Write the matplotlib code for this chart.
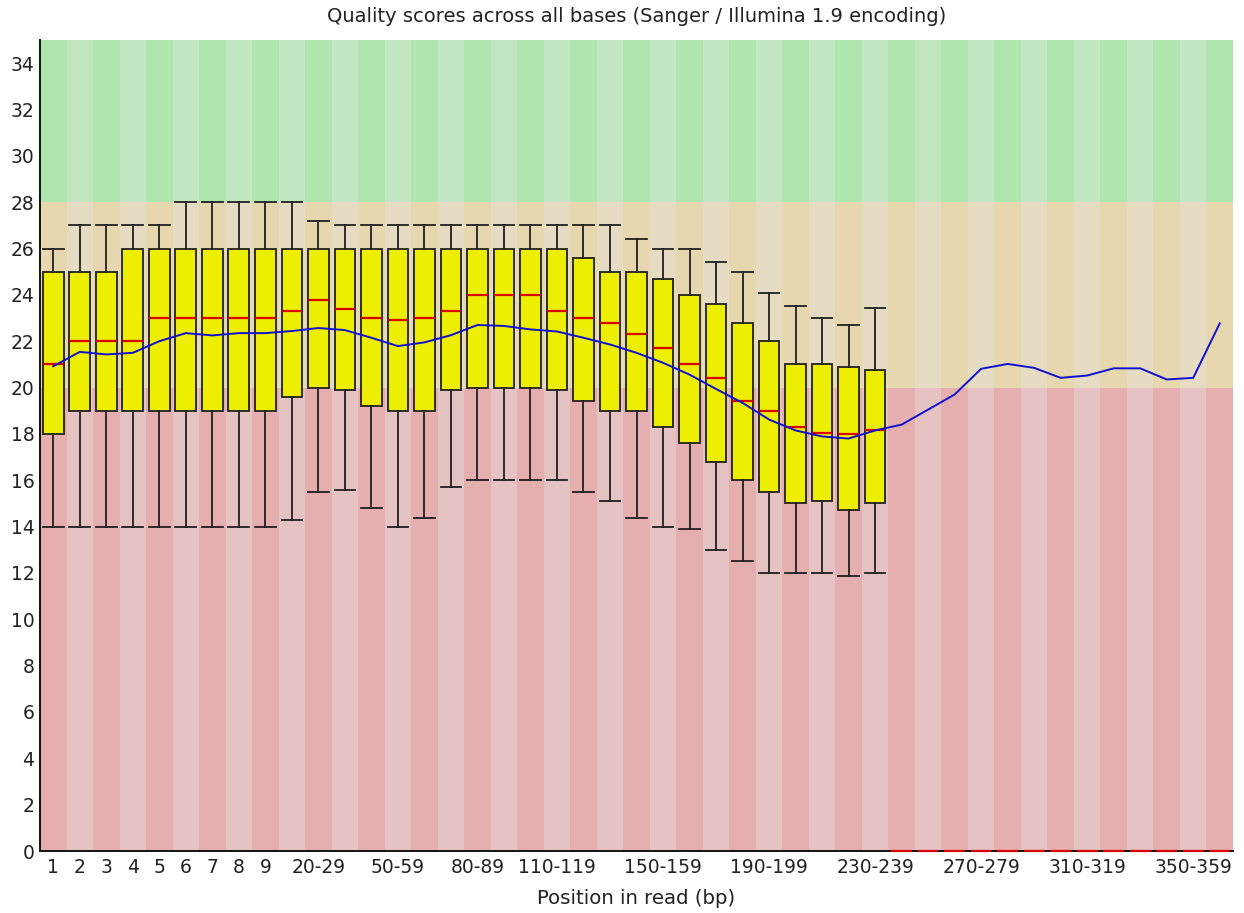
import numpy as np
import matplotlib
matplotlib.use("Agg")
import matplotlib.pyplot as plt

# ---- data -------------------------------------------------------------
categories = ["1", "2", "3", "4", "5", "6", "7", "8", "9",
              "10-19", "20-29", "30-39", "40-49", "50-59", "60-69", "70-79",
              "80-89", "90-99", "100-109", "110-119", "120-129", "130-139",
              "140-149", "150-159", "160-169", "170-179", "180-189", "190-199",
              "200-209", "210-219", "220-229", "230-239", "240-249", "250-259",
              "260-269", "270-279", "280-289", "290-299", "300-309", "310-319",
              "320-329", "330-339", "340-349", "350-359", "360-369"]

shown_labels = ["1", "2", "3", "4", "5", "6", "7", "8", "9", "20-29", "50-59",
                "80-89", "110-119", "150-159", "190-199", "230-239", "270-279",
                "310-319", "350-359"]

whisker_high = [26, 27, 27, 27, 27, 28, 28, 28, 28, 28, 27.2, 27, 27, 27, 27, 27,
                27, 27, 27, 27, 27, 27, 26.4, 26, 26, 25.4, 25, 24.1, 23.5, 23,
                22.7, 23.45, 0, 0, 0, 0, 0, 0, 0, 0, 0, 0, 0, 0, 0]
upper_quartile = [25, 25, 25, 26, 26, 26, 26, 26, 26, 26, 26, 26, 26, 26, 26, 26,
                  26, 26, 26, 26, 25.6, 25, 25, 24.7, 24, 23.6, 22.8, 22, 21, 21,
                  20.9, 20.75, 0, 0, 0, 0, 0, 0, 0, 0, 0, 0, 0, 0, 0]
median = [21, 22, 22, 22, 23, 23, 23, 23, 23, 23.3, 23.8, 23.4, 23, 22.9, 23, 23.3,
          24, 24, 24, 23.3, 23, 22.8, 22.3, 21.7, 21, 20.4, 19.4, 19, 18.3, 18.05,
          18, 18.15, 0, 0, 0, 0, 0, 0, 0, 0, 0, 0, 0, 0, 0]
lower_quartile = [18, 19, 19, 19, 19, 19, 19, 19, 19, 19.6, 20, 19.9, 19.2, 19, 19,
                  19.9, 20, 20, 20, 19.9, 19.4, 19, 19, 18.3, 17.6, 16.8, 16, 15.5,
                  15, 15.1, 14.7, 15, 0, 0, 0, 0, 0, 0, 0, 0, 0, 0, 0, 0, 0]
whisker_low = [14, 14, 14, 14, 14, 14, 14, 14, 14, 14.3, 15.5, 15.6, 14.8, 14, 14.35,
               15.7, 16, 16, 16, 16, 15.5, 15.1, 14.35, 14, 13.9, 13, 12.5, 12, 12,
               12, 11.85, 12, 0, 0, 0, 0, 0, 0, 0, 0, 0, 0, 0, 0, 0]
mean = [20.92, 21.54, 21.43, 21.5, 22.0, 22.35, 22.25, 22.35, 22.35, 22.44, 22.57,
        22.48, 22.15, 21.79, 21.95, 22.26, 22.7, 22.66, 22.51, 22.42, 22.15, 21.86,
        21.5, 21.07, 20.56, 19.94, 19.34, 18.62, 18.15, 17.89, 17.8, 18.15, 18.4,
        19.05, 19.7, 20.81, 21.02, 20.85, 20.42, 20.52, 20.83, 20.83, 20.35, 20.42,
        22.77]

# quality bands (lower, upper, dark colour, light colour)
bands = [(0, 20, "#E6AFAF", "#E6C3C3"),
         (20, 28, "#E6D7AF", "#E6DCC3"),
         (28, 35, "#AFE6AF", "#C3E6C3")]

# ---- figure -------------------------------------------------------------
W, H = 1244, 913
fig = plt.figure(figsize=(W / 100, H / 100), dpi=100)
ax = fig.add_axes([40 / W, (H - 851) / H, 1193 / W, (851 - 40) / H])

x = np.arange(len(categories))

for lo, hi, dark, light in bands:
    cols = [dark if i % 2 == 0 else light for i in x]
    ax.bar(x, hi - lo, bottom=lo, width=1.0, color=cols, linewidth=0, zorder=0)

stats = []
for i in x:
    stats.append(dict(med=median[i], q1=lower_quartile[i], q3=upper_quartile[i],
                      whislo=whisker_low[i], whishi=whisker_high[i],
                      label=categories[i]))

bp = ax.bxp(stats, positions=x, widths=0.78, capwidths=0.78, showfliers=False,
            patch_artist=True, manage_ticks=False,
            boxprops=dict(facecolor="#EEEE00", edgecolor="#202020", linewidth=1.3),
            whiskerprops=dict(color="#202020", linewidth=1.3),
            capprops=dict(color="#202020", linewidth=1.3),
            medianprops=dict(color="#D80000", linewidth=1.6))
for m in bp["medians"]:
    m.set_zorder(5)
    m.set_clip_on(False)

ax.plot(x, mean, color="#1010D0", linewidth=1.4, zorder=6)

ax.set_xlim(-0.5, len(categories) - 0.5)
ax.set_ylim(0, 35)
ax.set_yticks(np.arange(0, 35, 2))
ax.set_yticklabels([str(v) for v in range(0, 35, 2)])
ax.set_xticks([categories.index(l) for l in shown_labels])
ax.set_xticklabels(shown_labels)
ax.tick_params(axis="both", length=0, labelsize=13.5, colors="#222222")
ax.tick_params(axis="y", pad=4)
ax.tick_params(axis="x", pad=5)

for s in ("top", "right"):
    ax.spines[s].set_visible(False)
for s in ("left", "bottom"):
    ax.spines[s].set_color("#111111")
    ax.spines[s].set_linewidth(1.4)
    ax.spines[s].set_zorder(4)

fig.text((40 + 1233) / 2 / W, 1 - 17 / H,
         "Quality scores across all bases (Sanger / Illumina 1.9 encoding)",
         ha="center", va="center", fontsize=14, color="#222222")
fig.text((40 + 1233) / 2 / W, 1 - 898 / H, "Position in read (bp)",
         ha="center", va="center", fontsize=14.2, color="#222222")

fig.savefig("out.png", dpi=100)
